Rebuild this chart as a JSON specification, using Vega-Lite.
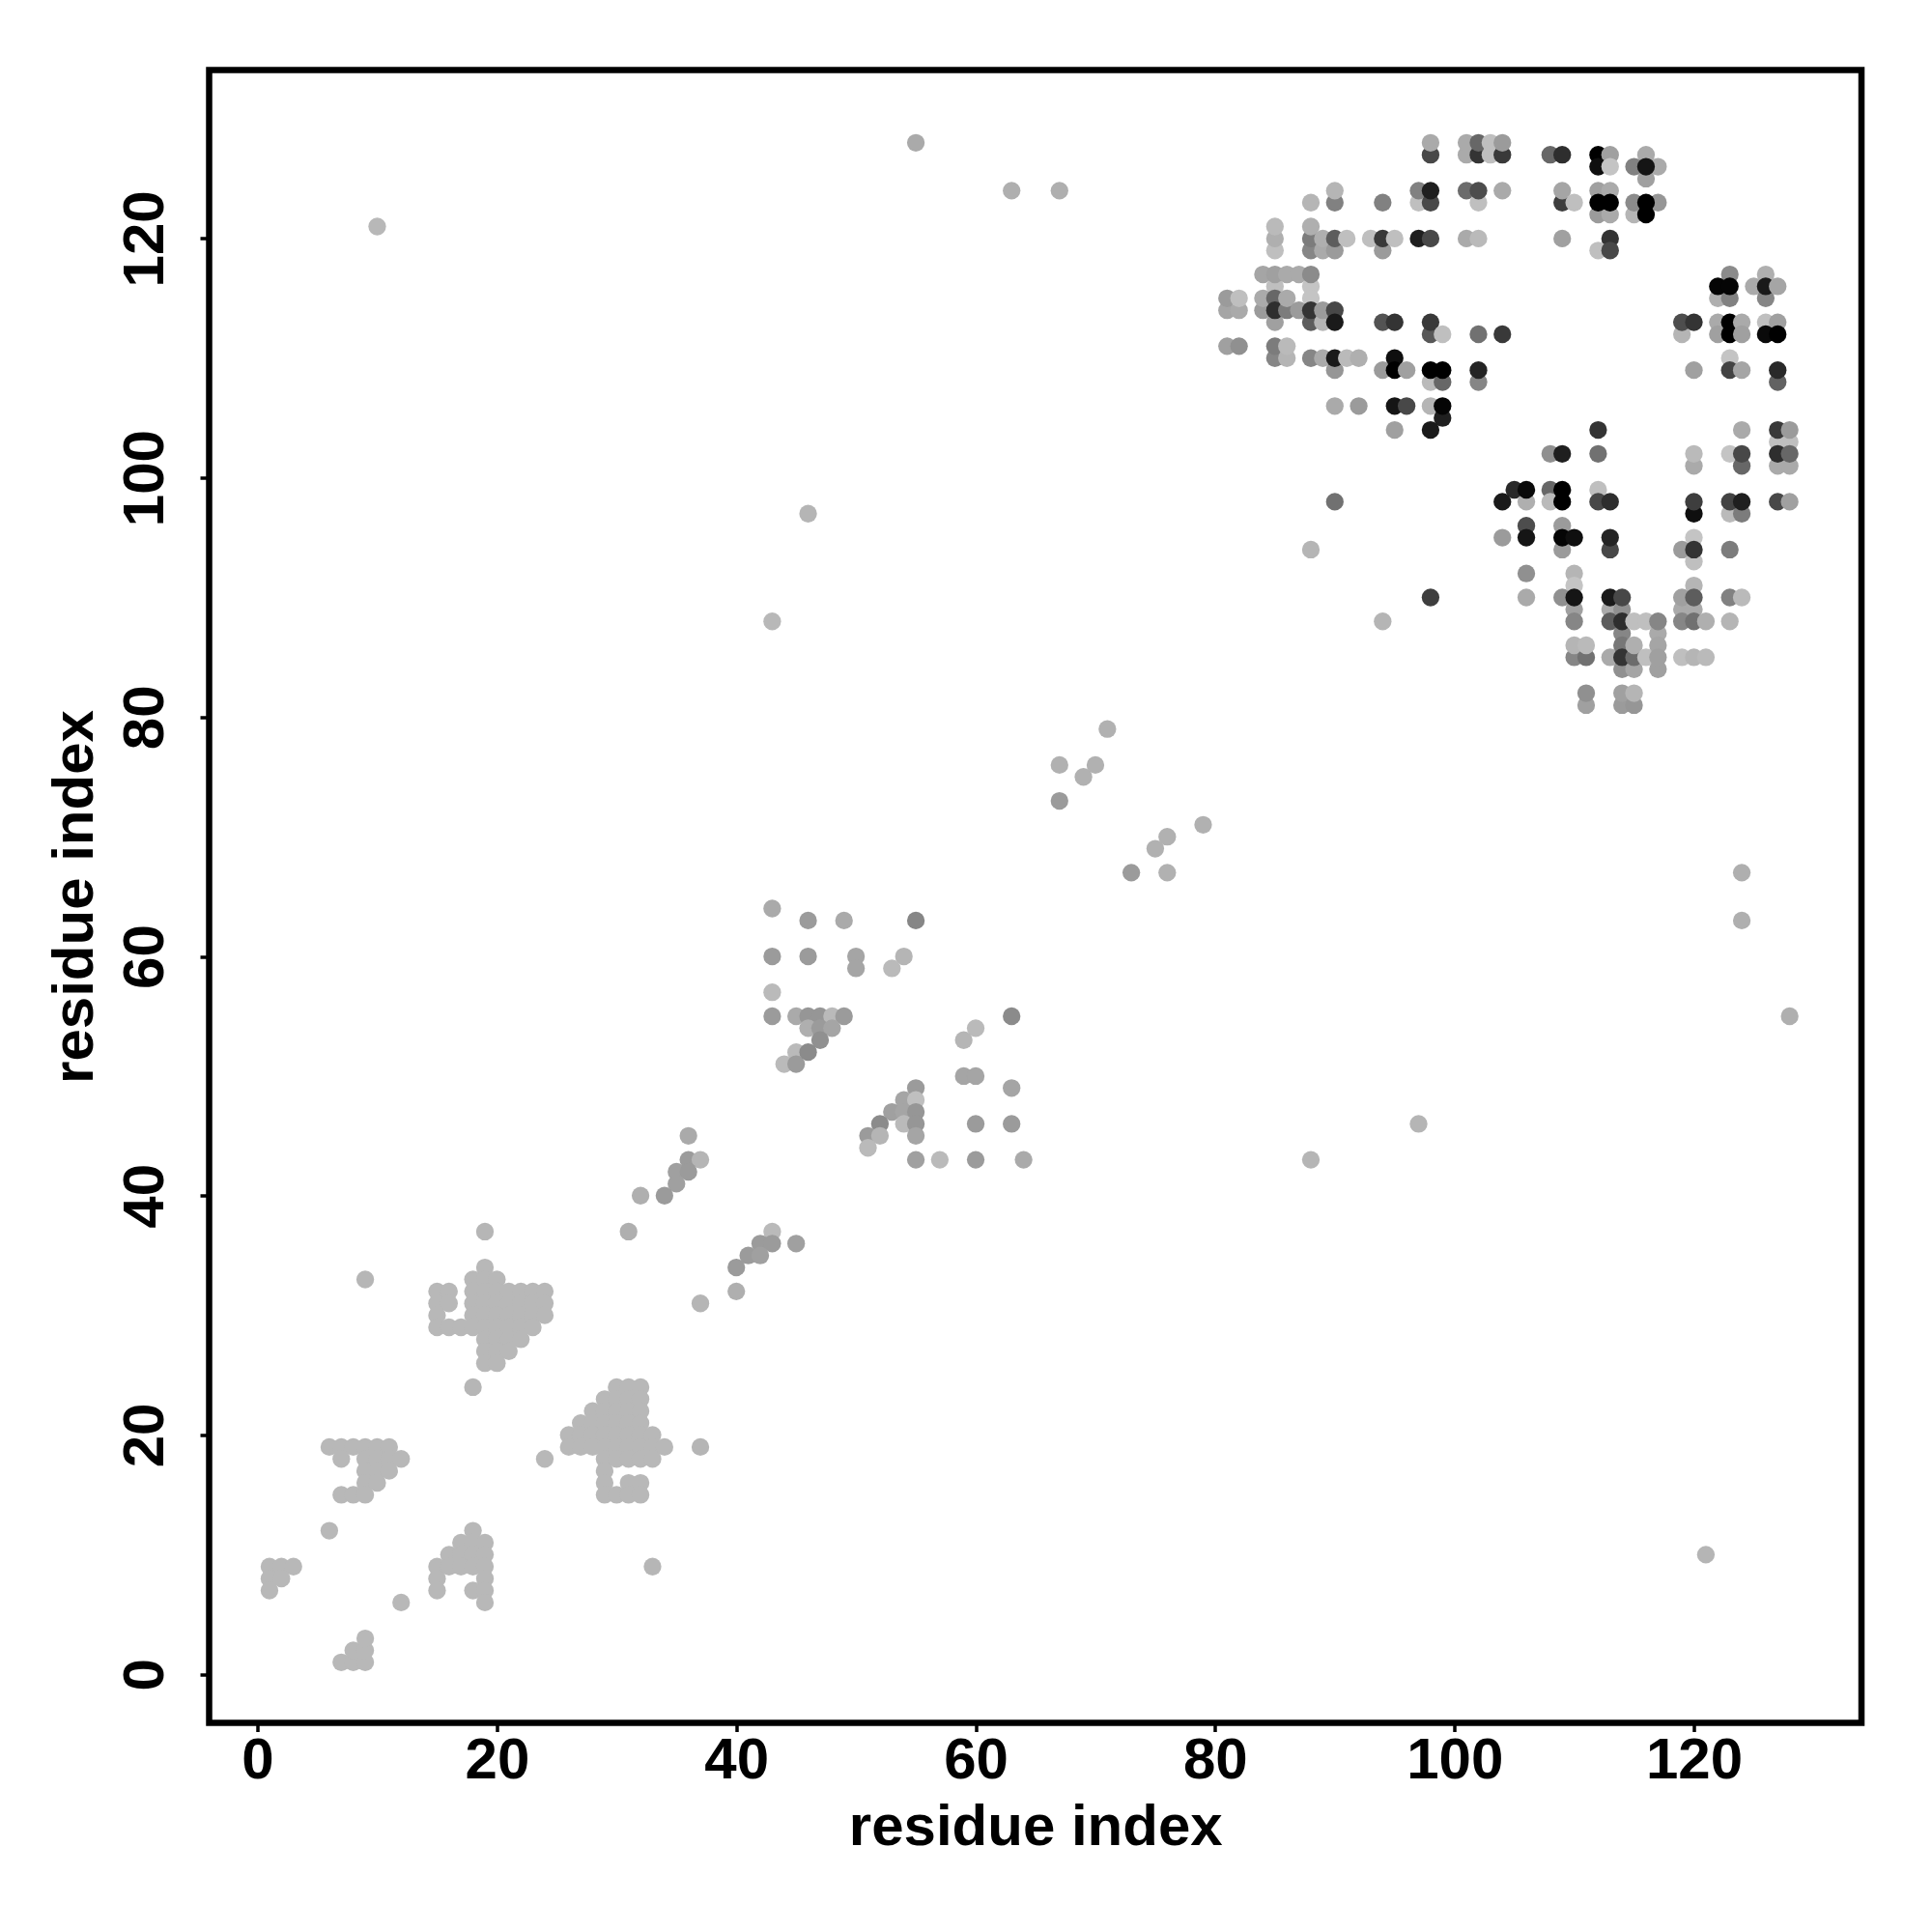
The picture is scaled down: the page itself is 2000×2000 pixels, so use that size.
{"$schema":"https://vega.github.io/schema/vega-lite/v6.json","autosize":{"type":"none"},"padding":{"left":216.5,"top":72.5,"right":73,"bottom":216},"width":1710.5,"height":1711,"background":"white","view":{"stroke":"#000000","strokeWidth":6.5,"fill":"white"},"config":{"font":"Liberation Sans"},"data":{"values":[
{"i":1,"j":9,"s":178},{"i":2,"j":9,"s":178},{"i":3,"j":9,"s":178},{"i":1,"j":8,"s":178},{"i":2,"j":8,"s":178},{"i":1,"j":7,"s":178},{"i":7,"j":1,"s":178},{"i":8,"j":1,"s":178},{"i":9,"j":1,"s":178},{"i":8,"j":2,"s":178},{"i":9,"j":2,"s":178},{"i":9,"j":3,"s":178},{"i":6,"j":12,"s":178},{"i":12,"j":6,"s":178},
{"i":6,"j":19,"s":178},{"i":7,"j":19,"s":178},{"i":8,"j":19,"s":178},{"i":9,"j":19,"s":178},{"i":10,"j":19,"s":178},{"i":11,"j":19,"s":178},{"i":7,"j":18,"s":178},{"i":9,"j":18,"s":178},{"i":10,"j":18,"s":178},{"i":11,"j":18,"s":178},{"i":12,"j":18,"s":178},{"i":9,"j":17,"s":178},{"i":10,"j":17,"s":178},{"i":11,"j":17,"s":178},{"i":9,"j":16,"s":178},{"i":10,"j":16,"s":178},{"i":7,"j":15,"s":178},{"i":8,"j":15,"s":178},{"i":9,"j":15,"s":178},{"i":24,"j":18,"s":178},
{"i":18,"j":12,"s":178},{"i":17,"j":11,"s":178},{"i":18,"j":11,"s":178},{"i":19,"j":11,"s":178},{"i":16,"j":10,"s":178},{"i":17,"j":10,"s":178},{"i":18,"j":10,"s":178},{"i":19,"j":10,"s":178},{"i":15,"j":9,"s":178},{"i":16,"j":9,"s":178},{"i":17,"j":9,"s":178},{"i":18,"j":9,"s":178},{"i":19,"j":9,"s":178},{"i":15,"j":8,"s":178},{"i":19,"j":8,"s":178},{"i":15,"j":7,"s":178},{"i":18,"j":7,"s":178},{"i":19,"j":7,"s":178},{"i":19,"j":6,"s":178},
{"i":9,"j":33,"s":176},{"i":18,"j":24,"s":176},{"i":19,"j":37,"s":176},{"i":19,"j":34,"s":178},{"i":18,"j":33,"s":178},{"i":19,"j":33,"s":178},{"i":20,"j":33,"s":178},
{"i":15,"j":32,"s":178},{"i":16,"j":32,"s":178},{"i":18,"j":32,"s":178},{"i":19,"j":32,"s":178},{"i":20,"j":32,"s":178},{"i":21,"j":32,"s":178},{"i":22,"j":32,"s":178},{"i":23,"j":32,"s":178},{"i":24,"j":32,"s":178},
{"i":15,"j":31,"s":178},{"i":16,"j":31,"s":178},{"i":18,"j":31,"s":178},{"i":19,"j":31,"s":178},{"i":20,"j":31,"s":178},{"i":21,"j":31,"s":178},{"i":22,"j":31,"s":178},{"i":23,"j":31,"s":178},{"i":24,"j":31,"s":178},
{"i":15,"j":30,"s":178},{"i":18,"j":30,"s":178},{"i":19,"j":30,"s":178},{"i":20,"j":30,"s":178},{"i":21,"j":30,"s":178},{"i":22,"j":30,"s":178},{"i":23,"j":30,"s":178},{"i":24,"j":30,"s":178},
{"i":15,"j":29,"s":178},{"i":16,"j":29,"s":178},{"i":17,"j":29,"s":178},{"i":18,"j":29,"s":178},{"i":19,"j":29,"s":178},{"i":20,"j":29,"s":178},{"i":21,"j":29,"s":178},{"i":22,"j":29,"s":178},{"i":23,"j":29,"s":178},
{"i":19,"j":28,"s":178},{"i":20,"j":28,"s":178},{"i":21,"j":28,"s":178},{"i":22,"j":28,"s":178},{"i":19,"j":27,"s":178},{"i":20,"j":27,"s":178},{"i":21,"j":27,"s":178},{"i":19,"j":26,"s":178},{"i":20,"j":26,"s":178},
{"i":30,"j":24,"s":178},{"i":31,"j":24,"s":178},{"i":32,"j":24,"s":178},{"i":29,"j":23,"s":178},{"i":30,"j":23,"s":178},{"i":31,"j":23,"s":178},{"i":32,"j":23,"s":178},{"i":28,"j":22,"s":178},{"i":29,"j":22,"s":178},{"i":30,"j":22,"s":178},{"i":31,"j":22,"s":178},{"i":32,"j":22,"s":178},{"i":27,"j":21,"s":178},{"i":28,"j":21,"s":178},{"i":29,"j":21,"s":178},{"i":30,"j":21,"s":178},{"i":31,"j":21,"s":178},{"i":32,"j":21,"s":178},
{"i":26,"j":20,"s":178},{"i":27,"j":20,"s":178},{"i":28,"j":20,"s":178},{"i":29,"j":20,"s":178},{"i":30,"j":20,"s":178},{"i":31,"j":20,"s":178},{"i":32,"j":20,"s":178},{"i":33,"j":20,"s":178},
{"i":26,"j":19,"s":178},{"i":27,"j":19,"s":178},{"i":28,"j":19,"s":178},{"i":29,"j":19,"s":178},{"i":30,"j":19,"s":178},{"i":31,"j":19,"s":178},{"i":32,"j":19,"s":178},{"i":33,"j":19,"s":178},{"i":34,"j":19,"s":178},{"i":37,"j":19,"s":175},
{"i":29,"j":18,"s":178},{"i":30,"j":18,"s":178},{"i":31,"j":18,"s":178},{"i":32,"j":18,"s":178},{"i":33,"j":18,"s":178},{"i":29,"j":17,"s":178},{"i":29,"j":16,"s":178},{"i":31,"j":16,"s":178},{"i":32,"j":16,"s":178},{"i":29,"j":15,"s":178},{"i":30,"j":15,"s":178},{"i":31,"j":15,"s":178},{"i":32,"j":15,"s":178},{"i":33,"j":9,"s":176},
{"i":36,"j":45,"s":165},{"i":36,"j":43,"s":150},{"i":37,"j":43,"s":175},{"i":35,"j":42,"s":155},{"i":36,"j":42,"s":150},{"i":35,"j":41,"s":155},{"i":34,"j":40,"s":150},{"i":32,"j":40,"s":170},{"i":31,"j":37,"s":170},{"i":43,"j":37,"s":180},{"i":42,"j":36,"s":150},{"i":43,"j":36,"s":150},{"i":45,"j":36,"s":155},{"i":41,"j":35,"s":150},{"i":42,"j":35,"s":155},{"i":40,"j":34,"s":150},{"i":40,"j":32,"s":170},{"i":37,"j":31,"s":175},
{"i":43,"j":64,"s":165},{"i":46,"j":63,"s":150},{"i":49,"j":63,"s":165},{"i":55,"j":63,"s":130},{"i":43,"j":60,"s":150},{"i":46,"j":60,"s":150},{"i":50,"j":60,"s":160},{"i":54,"j":60,"s":175},{"i":50,"j":59,"s":160},{"i":53,"j":59,"s":180},{"i":43,"j":57,"s":180},{"i":43,"j":55,"s":150},{"i":45,"j":55,"s":165},{"i":46,"j":55,"s":145},{"i":47,"j":55,"s":145},{"i":48,"j":55,"s":180},{"i":49,"j":55,"s":150},{"i":46,"j":54,"s":170},{"i":47,"j":54,"s":150},{"i":48,"j":54,"s":160},{"i":47,"j":53,"s":140},{"i":45,"j":52,"s":180},{"i":44,"j":51,"s":180},{"i":45,"j":51,"s":150},{"i":46,"j":52,"s":135},
{"i":63,"j":55,"s":135},{"i":60,"j":54,"s":180},{"i":59,"j":53,"s":175},{"i":59,"j":50,"s":160},{"i":60,"j":50,"s":160},{"i":63,"j":49,"s":160},{"i":55,"j":49,"s":150},{"i":54,"j":48,"s":160},{"i":55,"j":48,"s":185},{"i":53,"j":47,"s":155},{"i":54,"j":47,"s":160},{"i":55,"j":47,"s":145},{"i":54,"j":46,"s":180},{"i":52,"j":46,"s":135},{"i":55,"j":46,"s":145},{"i":60,"j":46,"s":150},{"i":63,"j":46,"s":150},{"i":51,"j":45,"s":150},{"i":52,"j":45,"s":175},{"i":55,"j":45,"s":160},{"i":51,"j":44,"s":180},{"i":55,"j":43,"s":155},{"i":57,"j":43,"s":180},{"i":60,"j":43,"s":150},{"i":64,"j":43,"s":165},
{"i":10,"j":121,"s":178},{"i":55,"j":128,"s":165},{"i":63,"j":124,"s":170},{"i":67,"j":124,"s":170},{"i":46,"j":97,"s":175},{"i":43,"j":88,"s":178},{"i":88,"j":94,"s":175},{"i":94,"j":88,"s":175},{"i":98,"j":90,"s":60},{"i":90,"j":98,"s":110},{"i":71,"j":79,"s":172},{"i":67,"j":76,"s":172},{"i":70,"j":76,"s":172},{"i":69,"j":75,"s":172},{"i":67,"j":73,"s":150},{"i":79,"j":71,"s":172},{"i":76,"j":70,"s":172},{"i":75,"j":69,"s":172},{"i":73,"j":67,"s":150},{"i":76,"j":67,"s":172},{"i":124,"j":67,"s":170},{"i":124,"j":63,"s":170},{"i":128,"j":55,"s":170},{"i":88,"j":43,"s":175},{"i":97,"j":46,"s":175},{"i":121,"j":10,"s":175},
{"i":98,"j":127,"s":70},{"i":98,"j":128,"s":165},{"i":101,"j":127,"s":165},{"i":101,"j":128,"s":165},{"i":102,"j":127,"s":50},{"i":102,"j":128,"s":100},{"i":103,"j":127,"s":185},{"i":103,"j":128,"s":185},{"i":104,"j":127,"s":55},{"i":104,"j":128,"s":150},{"i":108,"j":127,"s":100},{"i":109,"j":127,"s":45},
{"i":112,"j":127,"s":0},{"i":113,"j":127,"s":155},{"i":116,"j":127,"s":165},{"i":112,"j":126,"s":15},{"i":113,"j":126,"s":190},{"i":115,"j":126,"s":125},{"i":116,"j":125,"s":155},{"i":117,"j":126,"s":165},{"i":116,"j":126,"s":20},
{"i":90,"j":123,"s":125},{"i":90,"j":124,"s":175},{"i":97,"j":123,"s":185},{"i":97,"j":124,"s":125},{"i":98,"j":123,"s":70},{"i":98,"j":124,"s":30},{"i":101,"j":124,"s":105},{"i":102,"j":123,"s":185},{"i":102,"j":124,"s":75},{"i":104,"j":124,"s":165},{"i":109,"j":123,"s":60},{"i":109,"j":124,"s":160},{"i":110,"j":123,"s":185},{"i":88,"j":123,"s":175},{"i":94,"j":123,"s":125},
{"i":112,"j":124,"s":155},{"i":113,"j":124,"s":165},{"i":112,"j":122,"s":150},{"i":113,"j":122,"s":165},{"i":112,"j":123,"s":0},{"i":113,"j":123,"s":0},{"i":115,"j":122,"s":175},{"i":115,"j":123,"s":135},{"i":117,"j":123,"s":145},{"i":116,"j":123,"s":0},{"i":116,"j":122,"s":0},
{"i":85,"j":119,"s":185},{"i":85,"j":120,"s":170},{"i":85,"j":121,"s":180},{"i":88,"j":119,"s":130},{"i":88,"j":120,"s":120},{"i":88,"j":121,"s":170},{"i":89,"j":119,"s":165},{"i":89,"j":120,"s":170},{"i":90,"j":119,"s":150},{"i":90,"j":120,"s":90},{"i":91,"j":120,"s":185},{"i":93,"j":120,"s":185},{"i":94,"j":119,"s":150},{"i":94,"j":120,"s":55},{"i":95,"j":120,"s":185},{"i":97,"j":120,"s":30},{"i":98,"j":120,"s":70},{"i":101,"j":120,"s":165},{"i":102,"j":120,"s":180},{"i":109,"j":120,"s":155},{"i":113,"j":120,"s":50},{"i":112,"j":119,"s":185},{"i":113,"j":119,"s":70},
{"i":84,"j":117,"s":160},{"i":85,"j":116,"s":185},{"i":85,"j":117,"s":155},{"i":86,"j":117,"s":165},{"i":87,"j":117,"s":165},{"i":88,"j":116,"s":190},{"i":88,"j":117,"s":135},{"i":88,"j":115,"s":190},
{"i":81,"j":114,"s":160},{"i":81,"j":115,"s":150},{"i":82,"j":114,"s":165},{"i":82,"j":115,"s":185},{"i":84,"j":114,"s":150},{"i":84,"j":115,"s":165},{"i":85,"j":113,"s":155},{"i":85,"j":115,"s":100},{"i":85,"j":114,"s":45},{"i":86,"j":114,"s":120},{"i":86,"j":115,"s":165},{"i":87,"j":114,"s":150},{"i":88,"j":113,"s":90},{"i":88,"j":114,"s":50},{"i":89,"j":113,"s":175},{"i":89,"j":114,"s":150},{"i":90,"j":114,"s":70},{"i":90,"j":113,"s":25},{"i":94,"j":113,"s":80},{"i":95,"j":113,"s":50},{"i":98,"j":112,"s":85},{"i":98,"j":113,"s":55},{"i":99,"j":112,"s":185},{"i":102,"j":112,"s":110},{"i":104,"j":112,"s":55},
{"i":81,"j":111,"s":155},{"i":82,"j":111,"s":140},{"i":85,"j":110,"s":130},{"i":85,"j":111,"s":120},{"i":86,"j":110,"s":175},{"i":86,"j":111,"s":180},{"i":88,"j":110,"s":130},{"i":89,"j":110,"s":165},{"i":90,"j":109,"s":145},{"i":90,"j":110,"s":25},{"i":91,"j":110,"s":180},{"i":92,"j":110,"s":170},{"i":94,"j":109,"s":150},{"i":95,"j":110,"s":15},{"i":95,"j":109,"s":0},{"i":96,"j":109,"s":155},{"i":98,"j":108,"s":180},{"i":99,"j":108,"s":100},{"i":98,"j":109,"s":0},{"i":99,"j":109,"s":0},{"i":102,"j":108,"s":130},{"i":102,"j":109,"s":35},
{"i":90,"j":106,"s":165},{"i":92,"j":106,"s":150},{"i":95,"j":106,"s":20},{"i":96,"j":106,"s":70},{"i":98,"j":106,"s":175},{"i":99,"j":105,"s":30},{"i":99,"j":106,"s":5},{"i":95,"j":104,"s":155},{"i":98,"j":104,"s":25},
{"i":123,"j":117,"s":135},{"i":126,"j":117,"s":170},{"i":122,"j":115,"s":170},{"i":123,"j":115,"s":125},{"i":122,"j":116,"s":5},{"i":123,"j":116,"s":5},{"i":125,"j":116,"s":165},{"i":126,"j":115,"s":130},{"i":126,"j":116,"s":25},{"i":127,"j":116,"s":160},
{"i":119,"j":112,"s":175},{"i":119,"j":113,"s":75},{"i":120,"j":113,"s":50},{"i":122,"j":113,"s":165},{"i":122,"j":112,"s":155},{"i":123,"j":113,"s":0},{"i":123,"j":112,"s":0},{"i":124,"j":113,"s":165},{"i":124,"j":112,"s":155},{"i":126,"j":113,"s":185},{"i":127,"j":113,"s":155},{"i":126,"j":112,"s":10},{"i":127,"j":112,"s":0},
{"i":120,"j":109,"s":155},{"i":123,"j":110,"s":190},{"i":123,"j":109,"s":65},{"i":124,"j":109,"s":160},{"i":127,"j":108,"s":95},{"i":127,"j":109,"s":40},
{"i":112,"j":104,"s":50},{"i":124,"j":104,"s":165},{"i":127,"j":103,"s":185},{"i":128,"j":103,"s":185},{"i":127,"j":104,"s":55},{"i":128,"j":104,"s":150},
{"i":108,"j":102,"s":140},{"i":109,"j":102,"s":30},{"i":112,"j":102,"s":110},{"i":120,"j":101,"s":165},{"i":120,"j":102,"s":180},{"i":123,"j":102,"s":190},{"i":124,"j":101,"s":100},{"i":124,"j":102,"s":70},{"i":127,"j":101,"s":165},{"i":128,"j":101,"s":165},{"i":127,"j":102,"s":45},{"i":128,"j":102,"s":100},
{"i":105,"j":99,"s":40},{"i":106,"j":98,"s":170},{"i":106,"j":99,"s":10},{"i":108,"j":99,"s":100},{"i":108,"j":98,"s":180},{"i":109,"j":99,"s":0},{"i":109,"j":98,"s":0},{"i":112,"j":99,"s":185},{"i":104,"j":98,"s":25},{"i":112,"j":98,"s":70},{"i":113,"j":98,"s":45},{"i":120,"j":97,"s":15},{"i":120,"j":98,"s":60},{"i":123,"j":97,"s":180},{"i":124,"j":97,"s":120},{"i":123,"j":98,"s":65},{"i":124,"j":98,"s":30},{"i":127,"j":98,"s":70},{"i":128,"j":98,"s":155},
{"i":106,"j":96,"s":75},{"i":109,"j":94,"s":150},{"i":109,"j":96,"s":150},{"i":104,"j":95,"s":150},{"i":106,"j":95,"s":20},{"i":109,"j":95,"s":5},{"i":110,"j":95,"s":15},{"i":113,"j":94,"s":70},{"i":113,"j":95,"s":35},{"i":119,"j":94,"s":150},{"i":120,"j":93,"s":185},{"i":120,"j":95,"s":190},{"i":120,"j":94,"s":50},{"i":123,"j":94,"s":120},
{"i":106,"j":92,"s":140},{"i":110,"j":92,"s":175},{"i":110,"j":91,"s":190},{"i":120,"j":91,"s":175},{"i":106,"j":90,"s":165},{"i":109,"j":90,"s":140},{"i":110,"j":89,"s":155},{"i":110,"j":88,"s":130},{"i":110,"j":90,"s":20},{"i":113,"j":89,"s":165},{"i":113,"j":88,"s":90},{"i":113,"j":90,"s":25},{"i":114,"j":89,"s":140},{"i":114,"j":87,"s":130},{"i":114,"j":88,"s":45},{"i":114,"j":90,"s":70},{"i":115,"j":88,"s":185},{"i":116,"j":88,"s":185},{"i":117,"j":87,"s":165},{"i":117,"j":88,"s":130},
{"i":119,"j":89,"s":165},{"i":119,"j":90,"s":155},{"i":119,"j":88,"s":130},{"i":120,"j":89,"s":165},{"i":120,"j":88,"s":110},{"i":120,"j":90,"s":90},{"i":121,"j":88,"s":170},{"i":123,"j":88,"s":175},{"i":123,"j":90,"s":125},{"i":124,"j":90,"s":180},
{"i":110,"j":85,"s":130},{"i":110,"j":86,"s":175},{"i":111,"j":85,"s":110},{"i":111,"j":86,"s":180},{"i":113,"j":85,"s":165},{"i":114,"j":84,"s":140},{"i":114,"j":86,"s":115},{"i":114,"j":85,"s":50},{"i":115,"j":84,"s":160},{"i":115,"j":85,"s":105},{"i":115,"j":86,"s":170},{"i":116,"j":85,"s":185},{"i":117,"j":86,"s":160},{"i":117,"j":84,"s":155},{"i":117,"j":85,"s":155},{"i":119,"j":85,"s":185},{"i":120,"j":85,"s":175},{"i":121,"j":85,"s":180},
{"i":111,"j":81,"s":155},{"i":111,"j":82,"s":140},{"i":114,"j":81,"s":150},{"i":114,"j":82,"s":155},{"i":115,"j":81,"s":145},{"i":115,"j":82,"s":175}
]},
"mark":{"type":"circle","size":335,"opacity":1},
"encoding":{
"x":{"field":"i","type":"quantitative","scale":{"domain":[-4.04,134],"nice":false,"zero":false},"axis":{"title":"residue index","values":[0,20,40,60,80,100,120],"grid":false,"domain":false,"tickColor":"#000000","tickWidth":3.5,"tickSize":9,"labelColor":"#000000","labelFont":"Liberation Sans","labelFontWeight":"bold","labelFontSize":60,"labelPadding":1,"labelFlush":false,"titleFont":"Liberation Sans","titleFontWeight":"bold","titleFontSize":60,"titleColor":"#000000","titlePadding":10}},
"y":{"field":"j","type":"quantitative","scale":{"domain":[-4.06,134.08],"nice":false,"zero":false},"axis":{"title":"residue index","values":[0,20,40,60,80,100,120],"grid":false,"domain":false,"tickColor":"#000000","tickWidth":3.5,"tickSize":9.5,"labelColor":"#000000","labelFont":"Liberation Sans","labelFontWeight":"bold","labelFontSize":60,"labelAngle":-90,"labelAlign":"center","labelBaseline":"bottom","labelPadding":26,"labelFlush":false,"titleFont":"Liberation Sans","titleFontWeight":"bold","titleFontSize":60,"titleColor":"#000000","titlePadding":12}},
"color":{"field":"s","type":"quantitative","legend":null,"scale":{"domain":[0,190],"range":["#000000","#c4c4c4"],"interpolate":"rgb"}}
}}
